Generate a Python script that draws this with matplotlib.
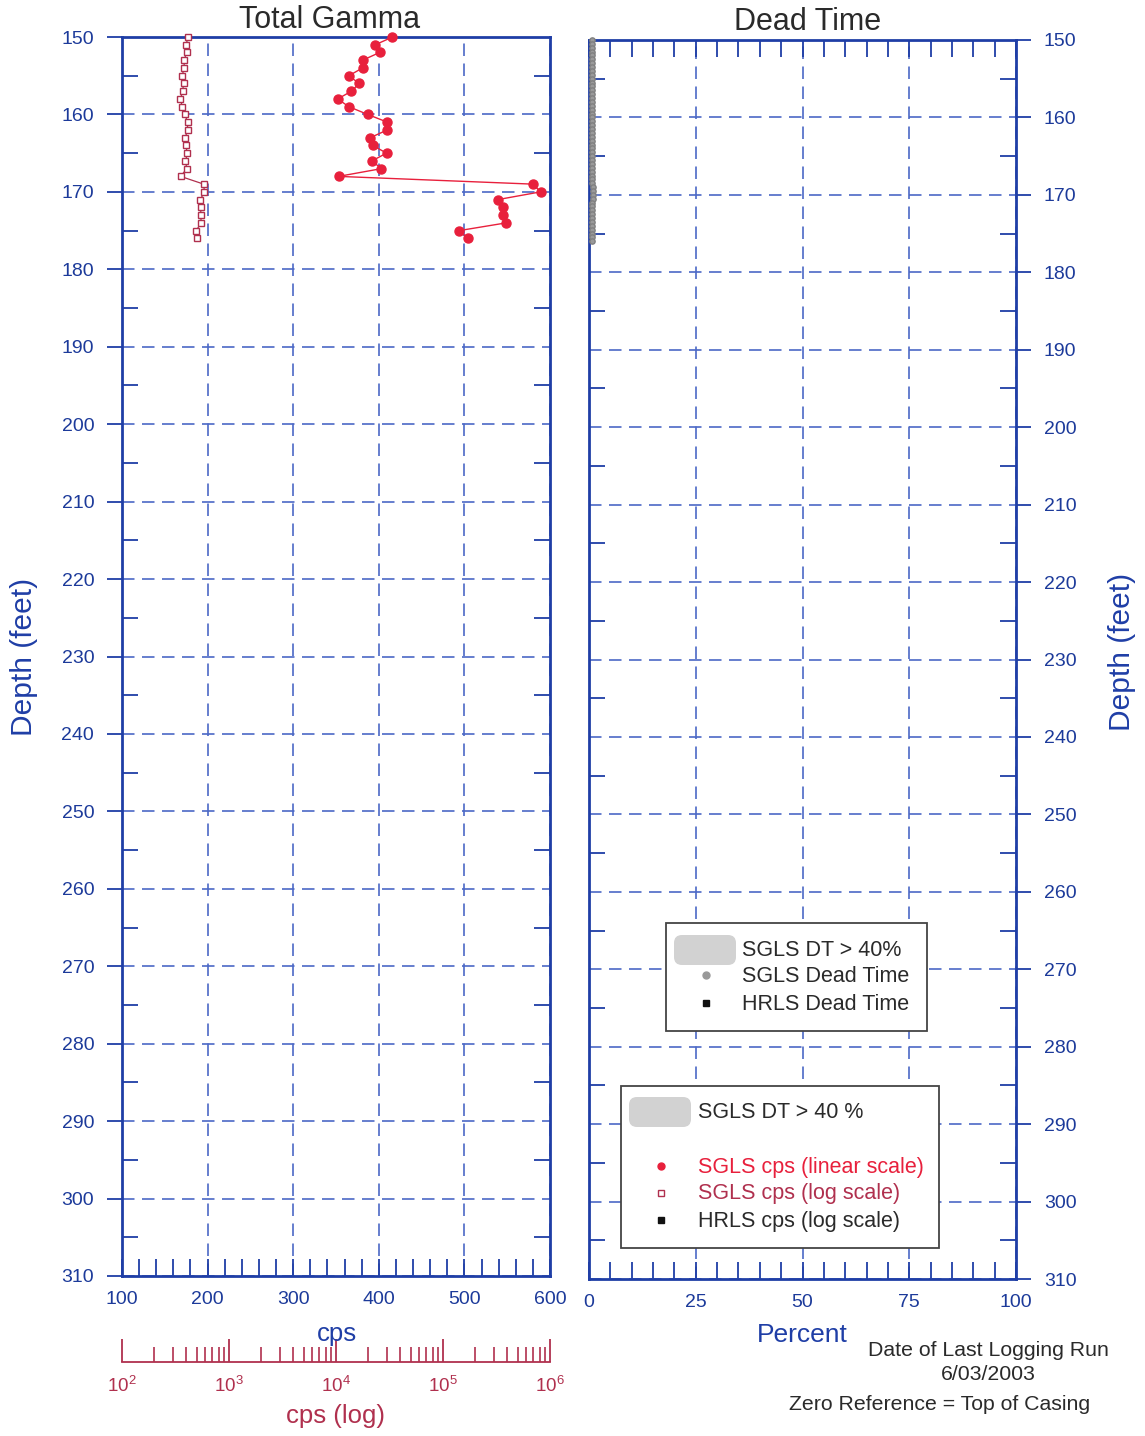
import matplotlib

matplotlib.use("Agg")
import matplotlib.pyplot as plt
from matplotlib.patches import FancyBboxPatch, Rectangle
from matplotlib.ticker import LogLocator, MultipleLocator, NullFormatter, LogFormatterSciNotation

plt.rcParams["font.family"] = ["Liberation Sans", "DejaVu Sans"]
plt.rcParams["mathtext.fontset"] = "custom"
plt.rcParams["mathtext.rm"] = "Liberation Sans"

# SGLS total gamma, 1 ft steps
gamma_depth = [150, 151, 152, 153, 154, 155, 156, 157, 158, 159, 160, 161, 162, 163,
               164, 165, 166, 167, 168, 169, 170, 171, 172, 173, 174, 175, 176]
sgls_cps = [416, 396, 401, 381, 381, 365, 377, 368, 352, 365, 387, 410, 410, 390,
            393, 409, 392, 403, 353, 580, 589, 539, 545, 545, 549, 494, 504]

# SGLS dead time, 0.5 ft steps
dt_depth = [150.0, 150.5, 151.0, 151.5, 152.0, 152.5, 153.0, 153.5, 154.0, 154.5,
            155.0, 155.5, 156.0, 156.5, 157.0, 157.5, 158.0, 158.5, 159.0, 159.5,
            160.0, 160.5, 161.0, 161.5, 162.0, 162.5, 163.0, 163.5, 164.0, 164.5,
            165.0, 165.5, 166.0, 166.5, 167.0, 167.5, 168.0, 168.5, 169.0, 169.5,
            170.0, 170.5, 171.0, 171.5, 172.0, 172.5, 173.0, 173.5, 174.0, 174.5,
            175.0, 175.5, 176.0]
sgls_dead_time = [0.7, 0.7, 0.7, 0.7, 0.7, 0.7, 0.7, 0.7, 0.7, 0.7,
                  0.7, 0.7, 0.7, 0.7, 0.7, 0.7, 0.6, 0.7, 0.7, 0.7,
                  0.7, 0.7, 0.8, 0.8, 0.8, 0.7, 0.7, 0.7, 0.7, 0.8,
                  0.7, 0.7, 0.7, 0.7, 0.7, 0.6, 0.6, 0.8, 0.9, 0.9,
                  0.9, 0.9, 0.8, 0.8, 0.8, 0.8, 0.8, 0.8, 0.8, 0.8,
                  0.8, 0.8, 0.8]

depth_range = (310, 150)
cps_range = (100, 600)
log_range = (1e2, 1e6)
pct_range = (0, 100)

W, H = 1145, 1436
BLUE = "#1f3ea6"
GRID = "#4b68c6"
TICK = "#1c3a9a"
RED = "#e8203c"
CRIMSON = "#b0304e"
TEXT = "#2a2a2a"
DASH = (0, (7.5, 4.5))


def _track(fig, box, xlim, xmajor, xminor, side):
    l, t, r, b = box
    ax = fig.add_axes([l / W, 1 - b / H, (r - l) / W, (b - t) / H])
    ax.set_xlim(*xlim)
    ax.set_ylim(*depth_range)
    for sp in ax.spines.values():
        sp.set_color(BLUE)
        sp.set_linewidth(2)
    ax.xaxis.set_major_locator(MultipleLocator(xmajor))
    ax.xaxis.set_minor_locator(MultipleLocator(xminor))
    ax.yaxis.set_major_locator(MultipleLocator(10))
    ax.yaxis.set_minor_locator(MultipleLocator(5))
    ax.tick_params(axis="x", which="both", direction="in", top=True, bottom=True,
                   length=12, width=1.3, color=BLUE)
    ax.tick_params(axis="x", which="major", labelcolor=TICK, labelsize=14, pad=11)
    ax.tick_params(axis="y", which="minor", direction="in", left=True, right=True,
                   length=11.5, width=1.3, color=BLUE)
    ax.tick_params(axis="y", which="major", direction="out", length=11, width=1.3,
                   color=BLUE, labelcolor=TICK, labelsize=14, pad=9,
                   left=(side == "left"), right=(side == "right"),
                   labelleft=(side == "left"), labelright=(side == "right"))
    ax.grid(which="major", color=GRID, linestyle=DASH, linewidth=1.2)
    ax.set_axisbelow(True)
    return ax


fig = plt.figure(figsize=(W / 100, H / 100), dpi=100)

# Total Gamma track
ax1 = _track(fig, (122, 37, 550, 1276), cps_range, 100, 20, "left")
ax1.plot(sgls_cps, gamma_depth, color=RED, linewidth=1.0, marker="o", markersize=6.5,
         markerfacecolor=RED, markeredgecolor=RED, clip_on=False, zorder=4)

ax1b = ax1.twiny()
ax1b.set_xscale("log")
ax1b.set_xlim(*log_range)
ax1b.tick_params(which="both", top=False, labeltop=False)
for sp in ax1b.spines.values():
    sp.set_visible(False)
ax1b.plot(sgls_cps, gamma_depth, color=CRIMSON, linewidth=0.9, marker="s", markersize=4.3,
          markerfacecolor="white", markeredgecolor=CRIMSON, markeredgewidth=1.0,
          clip_on=False, zorder=4)

# Dead Time track
ax2 = _track(fig, (589, 40, 1016, 1279), pct_range, 25, 5, "right")
ax2.plot(sgls_dead_time, dt_depth, color="#8a8a8a", linewidth=1.0, marker="o",
         markersize=3.8, markerfacecolor="#9a9a9a", markeredgecolor="#808080",
         clip_on=False, zorder=4)

# log cps scale under the gamma track
axl = fig.add_axes([122 / W, 1 - 1362 / H, 428 / W, 30 / H])
axl.set_xscale("log")
axl.set_xlim(*log_range)
axl.set_yticks([])
axl.patch.set_alpha(0)
for name, sp in axl.spines.items():
    sp.set_visible(name == "bottom")
axl.spines["bottom"].set_color(CRIMSON)
axl.spines["bottom"].set_linewidth(1.3)
axl.xaxis.set_major_locator(LogLocator(base=10, numticks=10))
axl.xaxis.set_major_formatter(LogFormatterSciNotation())
axl.xaxis.set_minor_locator(LogLocator(base=10, subs=range(2, 10), numticks=20))
axl.xaxis.set_minor_formatter(NullFormatter())
axl.tick_params(axis="x", which="major", direction="in", length=16.5, width=1.3,
                color=CRIMSON, labelcolor=CRIMSON, labelsize=13.5, pad=10)
axl.tick_params(axis="x", which="minor", direction="in", length=10.5, width=1.2, color=CRIMSON)

# titles and axis labels
fig.text(330 / W, 1 - 20 / H, "Total Gamma", ha="center", va="center", fontsize=22, color=TEXT)
fig.text(808 / W, 1 - 22 / H, "Dead Time", ha="center", va="center", fontsize=22, color=TEXT)
fig.text(24 / W, 1 - 657 / H, "Depth (feet)", ha="center", va="center", rotation=90,
         fontsize=21.5, color=BLUE)
fig.text(1122 / W, 1 - 652 / H, "Depth (feet)", ha="center", va="center", rotation=90,
         fontsize=21.5, color=BLUE)
fig.text(337 / W, 1 - 1334 / H, "cps", ha="center", va="center", fontsize=18.5, color=BLUE)
fig.text(802 / W, 1 - 1335 / H, "Percent", ha="center", va="center", fontsize=19, color=BLUE)
fig.text(335 / W, 1 - 1416 / H, "cps (log)", ha="center", va="center", fontsize=18.5, color=CRIMSON)
fig.text(988 / W, 1 - 1350 / H, "Date of Last Logging Run", ha="center", va="center",
         fontsize=15.3, color=TEXT)
fig.text(988 / W, 1 - 1374 / H, "6/03/2003", ha="center", va="center", fontsize=15.3, color=TEXT)
fig.text(940 / W, 1 - 1404 / H, "Zero Reference = Top of Casing", ha="center", va="center",
         fontsize=15.3, color=TEXT)

# legend boxes drawn in pixel space
ov = fig.add_axes([0, 0, 1, 1], zorder=10)
ov.set_xlim(0, W)
ov.set_ylim(H, 0)
ov.axis("off")
ov.patch.set_alpha(0)


def _swatch(x, y):
    ov.add_patch(FancyBboxPatch((x, y), 56, 24, boxstyle="round,pad=3,rounding_size=8",
                                facecolor="#d2d2d2", edgecolor="none"))


ov.add_patch(Rectangle((666, 923), 261, 108, facecolor="white", edgecolor="#444444", linewidth=1.3))
_swatch(677, 938)
ov.text(742, 950, "SGLS DT > 40%", va="center", fontsize=15.5, color=TEXT)
ov.plot([706], [975], marker="o", markersize=5, color="#999999")
ov.text(742, 977, "SGLS Dead Time", va="center", fontsize=15.5, color=TEXT)
ov.plot([706], [1003], marker="s", markersize=4.5, color="#111111")
ov.text(742, 1004, "HRLS Dead Time", va="center", fontsize=15.5, color=TEXT)

ov.add_patch(Rectangle((621, 1086), 318, 162, facecolor="white", edgecolor="#444444", linewidth=1.3))
_swatch(632, 1100)
ov.text(698, 1113, "SGLS DT > 40 %", va="center", fontsize=15.5, color=TEXT)
ov.plot([661], [1166], marker="o", markersize=5, color=RED)
ov.text(698, 1167, "SGLS cps (linear scale)", va="center", fontsize=15.5, color=RED)
ov.plot([661], [1193], marker="s", markersize=4.3, markerfacecolor="white",
        markeredgecolor=CRIMSON, markeredgewidth=1.0)
ov.text(698, 1194, "SGLS cps (log scale)", va="center", fontsize=15.5, color=CRIMSON)
ov.plot([661], [1220], marker="s", markersize=4.5, color="#111111")
ov.text(698, 1221, "HRLS cps (log scale)", va="center", fontsize=15.5, color=TEXT)

fig.savefig("out.png", dpi=100)
